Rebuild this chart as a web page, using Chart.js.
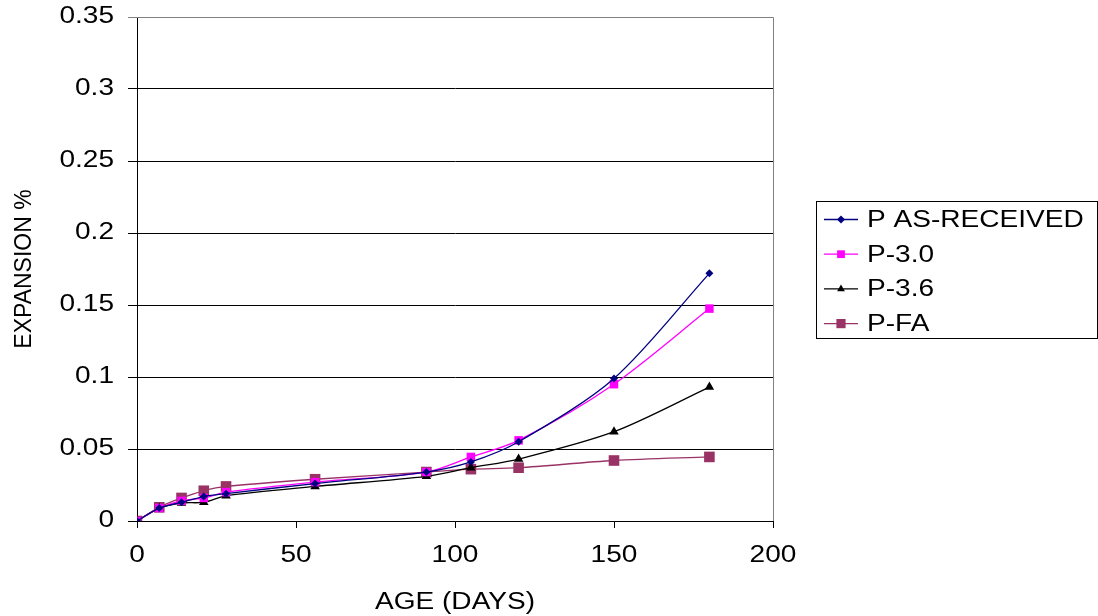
<!DOCTYPE html>
<html>
<head>
<meta charset="utf-8">
<script src="https://cdn.jsdelivr.net/npm/chart.js@4/dist/chart.umd.min.js"></script>
<style>
  html, body { margin: 0; padding: 0; background: #fff; }
  #wrap { width: 1098px; height: 616px; position: relative; }
</style>
</head>
<body>
<div id="wrap"><canvas id="expChart" width="1098" height="616"></canvas></div>
<script>
// age in days
const ages = [0, 7, 14, 21, 28, 56, 91, 105, 120, 150, 180];

// expansion %
const asReceived = [0, 0.009, 0.013, 0.017, 0.019, 0.026, 0.034, 0.041, 0.055, 0.099, 0.172];
const p30 = [0, 0.009, 0.014, 0.016, 0.020, 0.027, 0.034, 0.0445, 0.056, 0.095, 0.1475];
const p36 = [0, 0.009, 0.0125, 0.013, 0.0175, 0.024, 0.031, 0.037, 0.043, 0.062, 0.093];
const pFA = [0, 0.0095, 0.016, 0.021, 0.024, 0.029, 0.034, 0.036, 0.037, 0.042, 0.0445];

const seriesNames = ['P AS-RECEIVED', 'P-3.0', 'P-3.6', 'P-FA'];
const yTickLabels = ['0', '0.05', '0.1', '0.15', '0.2', '0.25', '0.3', '0.35'];
const xTickLabels = ['0', '50', '100', '150', '200'];

const FONT = 'Liberation Sans, Arial, sans-serif';
const FSIZE = 23;
const TEXT_STRETCH = 1.22; // the original's horizontal text is a bit wide

// widen horizontal text the way the original looks (rotated text left alone)
const canvas = document.getElementById('expChart');
const ctx2d = canvas.getContext('2d');
const origFill = ctx2d.fillText.bind(ctx2d);
ctx2d.fillText = function (t, x, y, mw) {
    const m = this.getTransform();
    if (Math.abs(m.b) > 1e-6) return origFill(t, x, y, mw);
    this.save();
    this.translate(x, y);
    this.scale(TEXT_STRETCH, 1);
    origFill(t, 0, 0);
    this.restore();
};

function pts(vals) {
    return ages.map((a, i) => ({ x: a, y: vals[i] }));
}

const styles = [
    { color: '#000080', point: 'rectRot', r: 4, lr: 4 },
    { color: '#FF00FF', point: 'rect', r: 6, lr: 5.5 },
    { color: '#000000', point: 'triangle', r: 5.5, lr: 4.5 },
    { color: '#993366', point: 'rect', r: 7.5, lr: 6.5 }
];

const allValues = [asReceived, p30, p36, pFA];

const datasets = allValues.map((vals, i) => ({
    label: seriesNames[i],
    data: pts(vals),
    borderColor: styles[i].color,
    backgroundColor: styles[i].color,
    borderWidth: 1.3,
    pointStyle: styles[i].point,
    pointRadius: styles[i].r,
    pointBorderWidth: 0,
    tension: 0.3,
    fill: false
}));

// Excel-like legend box on the right
const legendBox = {
    id: 'legendBox',
    afterDraw(chart) {
        const ctx = chart.ctx;
        const left = 816, top = 201, w = 281, h = 137;
        ctx.save();
        ctx.strokeStyle = '#000';
        ctx.lineWidth = 1;
        ctx.strokeRect(left + 0.5, top + 0.5, w, h);
        ctx.font = FSIZE + 'px ' + FONT;
        ctx.textBaseline = 'middle';
        ctx.textAlign = 'left';
        chart.data.datasets.forEach((ds, i) => {
            const y = top + 18.5 + i * 34.7;
            ctx.strokeStyle = styles[i].color;
            ctx.lineWidth = 1.3;
            ctx.beginPath();
            ctx.moveTo(824, y);
            ctx.lineTo(858, y);
            ctx.stroke();
            ctx.fillStyle = styles[i].color;
            Chart.helpers.drawPoint(ctx, {
                pointStyle: styles[i].point,
                radius: styles[i].lr,
                borderWidth: 0
            }, 841, y);
            ctx.fillStyle = '#000';
            ctx.fillText(ds.label, 867, y + 1);
        });
        ctx.restore();
    }
};

// grey frame on the top and right of the plot area
const plotFrame = {
    id: 'plotFrame',
    beforeDatasetsDraw(chart) {
        const a = chart.chartArea;
        const ctx = chart.ctx;
        ctx.save();
        ctx.strokeStyle = '#808080';
        ctx.lineWidth = 1;
        ctx.beginPath();
        ctx.moveTo(a.left, a.top + 0.5);
        ctx.lineTo(a.right + 0.5, a.top + 0.5);
        ctx.lineTo(a.right + 0.5, a.bottom);
        ctx.stroke();
        ctx.restore();
    }
};

new Chart(canvas, {
    type: 'line',
    data: { datasets: datasets },
    plugins: [legendBox, plotFrame],
    options: {
        responsive: false,
        animation: false,
        layout: { padding: { top: 17, right: 325, bottom: 0, left: 0 } },
        plugins: {
            legend: { display: false },
            tooltip: { enabled: false }
        },
        scales: {
            x: {
                type: 'linear',
                min: 0,
                max: 200,
                afterFit: (s) => { s.height = 95; s.paddingLeft = 0; s.paddingRight = 0; },
                ticks: {
                    stepSize: 50,
                    color: '#000',
                    padding: 14,
                    maxRotation: 0,
                    font: { family: FONT, size: FSIZE },
                    callback: (v, i) => xTickLabels[i]
                },
                grid: { drawOnChartArea: false, tickLength: 7, color: '#000' },
                border: { color: '#000', width: 1 },
                title: {
                    display: true,
                    text: 'AGE (DAYS)',
                    color: '#000',
                    font: { family: FONT, size: FSIZE },
                    padding: { top: 2, bottom: 0 }
                }
            },
            y: {
                min: 0,
                max: 0.35,
                afterFit: (s) => { s.width = 137; s.paddingTop = 0; s.paddingBottom = 0; },
                ticks: {
                    stepSize: 0.05,
                    color: '#000',
                    padding: 14,
                    font: { family: FONT, size: FSIZE },
                    callback: (v, i) => yTickLabels[i]
                },
                grid: {
                    tickLength: 9,
                    color: (c) => c.index === yTickLabels.length - 1 ? '#808080' : '#000'
                },
                border: { color: '#000', width: 1 },
                title: {
                    display: true,
                    text: 'EXPANSION %',
                    color: '#000',
                    font: { family: FONT, size: FSIZE },
                    padding: { top: 11, bottom: 0 }
                }
            }
        }
    }
});
</script>
</body>
</html>
